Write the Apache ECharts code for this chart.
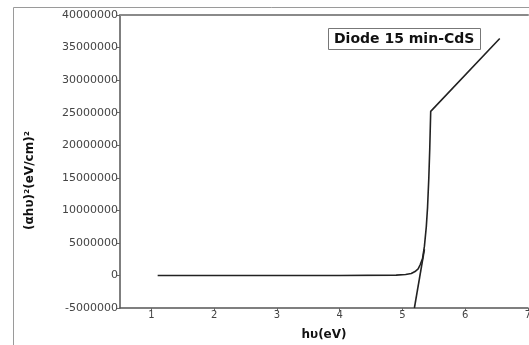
<!DOCTYPE html>
<html><head><meta charset="utf-8">
<script src="https://cdn.jsdelivr.net/npm/echarts@6/dist/echarts.min.js"></script>
<style>html,body{margin:0;padding:0;background:#fff}#c{width:529px;height:345px}</style>
</head><body><div id="c"></div>
<script>
var titleText = 'Diode 15 min-CdS';
var xName = 'hυ(eV)';
var yName = '(αhυ)²(eV/cm)²';
var xTicks = [1, 2, 3, 4, 5, 6, 7];
var yTicks = [-5000000, 0, 5000000, 10000000, 15000000, 20000000, 25000000, 30000000, 35000000, 40000000];
var curveX = [1.1, 2, 3, 4, 4.9, 5.05, 5.14, 5.2, 5.25, 5.28, 5.32, 5.35, 5.38, 5.40, 5.42, 5.435, 5.45, 6.55];
var curveY = [0, 0, 0, 0, 50000, 150000, 300000, 600000, 1000000, 1600000, 2600000, 4500000, 7500000, 10500000, 15000000, 19500000, 25200000, 36400000];
var tangentX = [5.19, 5.35];
var tangentY = [-5000000, 4000000];

function pairs(xs, ys) { return xs.map(function (x, i) { return [x, ys[i]]; }); }

var chart = echarts.init(document.getElementById('c'), null, {renderer: 'canvas'});
var font = 'DejaVu Sans';
chart.setOption({
  animation: false,
  backgroundColor: '#fff',
  grid: {left: 120, top: 15, right: 1, bottom: 37, outerBoundsMode: 'none', containLabel: false},
  graphic: {elements: [{type: 'rect', x: 0, y: 0, shape: {x: 13.5, y: 7.5, width: 530, height: 360}, style: {fill: 'none', stroke: '#9a9a9a', lineWidth: 1}, silent: true}]},
  title: {
    text: titleText, left: 328, top: 28,
    borderColor: '#777', borderWidth: 1, padding: [4, 6, 4, 6],
    textStyle: {fontFamily: font, fontWeight: 'bold', fontSize: 14, color: '#111'}
  },
  xAxis: [{
    type: 'value', min: 0.5, max: 7, position: 'bottom',
    name: xName, nameLocation: 'middle', nameGap: 21,
    nameTextStyle: {fontFamily: font, fontWeight: 'bold', fontSize: 12, color: '#111'},
    axisLine: {show: true, onZero: false, lineStyle: {color: '#555', width: 1.5}},
    axisTick: {show: true, customValues: xTicks, length: 3, lineStyle: {color: '#666'}},
    axisLabel: {customValues: xTicks, margin: 2, fontFamily: font, fontSize: 10, color: '#444'},
    splitLine: {show: false}
  }, {
    type: 'value', min: 0.5, max: 7, position: 'top',
    axisLine: {show: true, onZero: false, lineStyle: {color: '#8a8a8a', width: 2}},
    axisTick: {show: false}, axisLabel: {show: false}, splitLine: {show: false}
  }],
  yAxis: {
    type: 'value', min: -5000000, max: 40000000, interval: 5000000,
    name: yName, nameLocation: 'middle', nameGap: 84, nameRotate: 90,
    nameTextStyle: {fontFamily: font, fontWeight: 'bold', fontSize: 12, color: '#111', padding: [0, 38, 0, 0]},
    axisLine: {show: true, onZero: false, lineStyle: {color: '#555', width: 1.5}},
    axisTick: {show: true, length: 3, lineStyle: {color: '#666'}},
    axisLabel: {margin: 2, fontFamily: font, fontSize: 11, color: '#444', formatter: function (v) { return String(v); }},
    splitLine: {show: false}
  },
  series: [{
    type: 'line', data: pairs(curveX, curveY), showSymbol: false, smooth: false,
    lineStyle: {color: '#222', width: 1.6}
  }, {
    type: 'line', data: pairs(tangentX, tangentY), showSymbol: false,
    lineStyle: {color: '#222', width: 1.6}
  }]
});
</script></body></html>
